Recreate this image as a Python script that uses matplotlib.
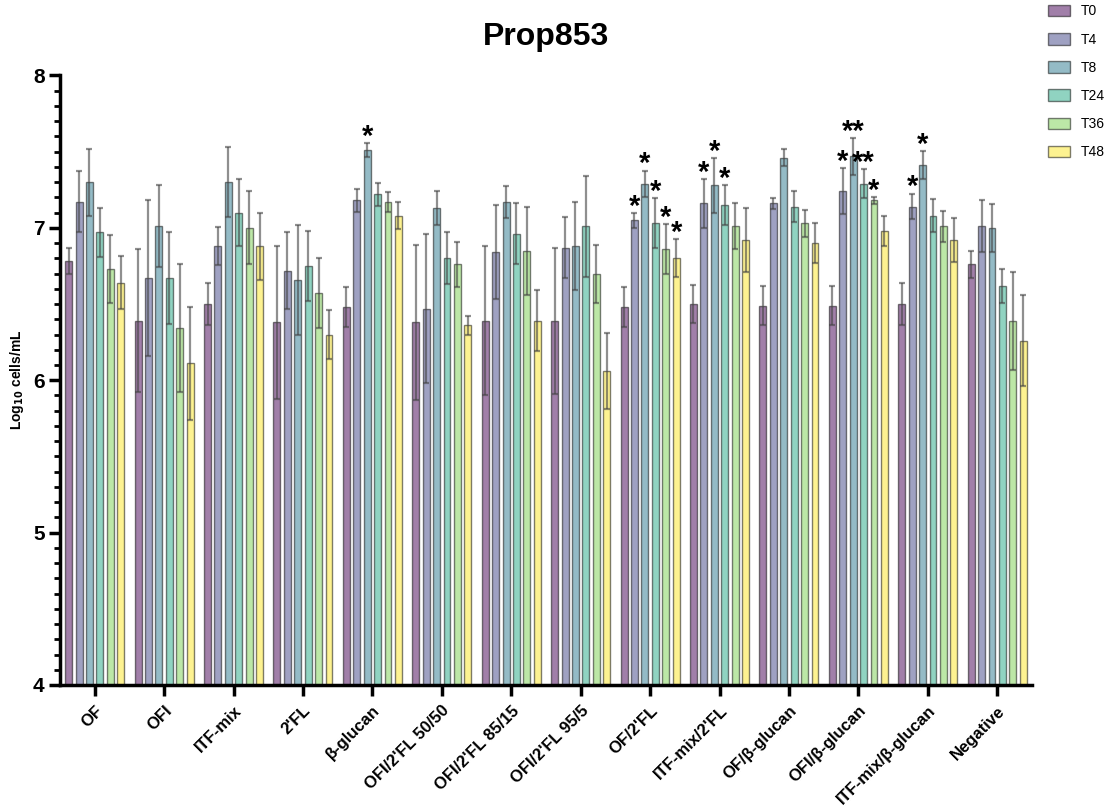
import matplotlib
matplotlib.use('Agg')
import matplotlib.pyplot as plt
import numpy as np

plt.rcParams['font.family'] = ['Liberation Sans', 'DejaVu Sans']

# Data (log10 cells/mL)
groups = ['OF', 'OFI', 'ITF-mix', "2'FL", 'β-glucan', "OFI/2'FL 50/50", "OFI/2'FL 85/15",
          "OFI/2'FL 95/5", "OF/2'FL", "ITF-mix/2'FL", 'OF/β-glucan', 'OFI/β-glucan',
          'ITF-mix/β-glucan', 'Negative']
times = ['T0', 'T4', 'T8', 'T24', 'T36', 'T48']

t0 = [6.78, 6.39, 6.50, 6.38, 6.48, 6.38, 6.39, 6.39, 6.48, 6.50, 6.49, 6.49, 6.50, 6.76]
t4 = [7.17, 6.67, 6.88, 6.72, 7.18, 6.47, 6.84, 6.87, 7.05, 7.16, 7.16, 7.24, 7.14, 7.01]
t8 = [7.30, 7.01, 7.30, 6.66, 7.51, 7.13, 7.17, 6.88, 7.29, 7.28, 7.46, 7.47, 7.41, 7.00]
t24 = [6.97, 6.67, 7.10, 6.75, 7.22, 6.80, 6.96, 7.01, 7.03, 7.15, 7.14, 7.29, 7.08, 6.62]
t36 = [6.73, 6.34, 7.00, 6.57, 7.17, 6.76, 6.85, 6.70, 6.86, 7.01, 7.03, 7.18, 7.01, 6.39]
t48 = [6.64, 6.11, 6.88, 6.30, 7.08, 6.36, 6.39, 6.06, 6.80, 6.92, 6.90, 6.98, 6.92, 6.26]

e0 = [0.085, 0.47, 0.14, 0.50, 0.13, 0.51, 0.49, 0.48, 0.13, 0.125, 0.13, 0.13, 0.14, 0.09]
e4 = [0.20, 0.51, 0.125, 0.25, 0.076, 0.49, 0.31, 0.20, 0.05, 0.16, 0.037, 0.15, 0.085, 0.17]
e8 = [0.22, 0.27, 0.23, 0.36, 0.046, 0.11, 0.107, 0.29, 0.086, 0.18, 0.056, 0.12, 0.092, 0.156]
e24 = [0.16, 0.30, 0.22, 0.23, 0.077, 0.17, 0.20, 0.33, 0.165, 0.13, 0.10, 0.094, 0.11, 0.11]
e36 = [0.22, 0.42, 0.24, 0.23, 0.066, 0.15, 0.29, 0.19, 0.165, 0.15, 0.09, 0.025, 0.10, 0.32]
e48 = [0.175, 0.37, 0.22, 0.16, 0.087, 0.063, 0.20, 0.25, 0.125, 0.21, 0.13, 0.10, 0.145, 0.30]

# significance marks: (group index, time index, text)
stars = [(4, 2, '*'),
         (8, 1, '*'), (8, 2, '*'), (8, 3, '*'), (8, 4, '*'), (8, 5, '*'),
         (9, 1, '*'), (9, 2, '*'), (9, 3, '*'),
         (11, 1, '*'), (11, 2, '**'), (11, 3, '**'), (11, 4, '*'),
         (12, 1, '*'), (12, 2, '*')]

means = [t0, t4, t8, t24, t36, t48]
errs = [e0, e4, e8, e24, e36, e48]

fig = plt.figure(figsize=(11.19, 8.09), dpi=100)
ax = fig.add_axes([0.0536, 0.1533, 0.8686, 0.7534])

colors = plt.cm.viridis(np.linspace(0, 1, 6))
x = np.arange(len(groups))
step = 0.15
width = 0.1

for j, (m, e) in enumerate(zip(means, errs)):
    pos = x + (j - 2.5) * step
    ax.bar(pos, m, width, color=colors[j], alpha=0.5, edgecolor='black', linewidth=1.0,
           label=times[j], zorder=2)
    ax.errorbar(pos, m, yerr=e, fmt='none', ecolor='#444444', alpha=0.6, elinewidth=1.6,
                capsize=2, capthick=1.6, zorder=3)

for g, t, s in stars:
    xp = g + (t - 2.5) * step
    yp = means[t][g] + errs[t][g] - 0.012
    ax.text(xp, yp, s, ha='center', va='baseline', fontsize=21, fontweight='bold', zorder=4)

ax.set_xlim(-0.5, 13.5)
ax.set_ylim(4, 8)
ax.set_yticks([4, 5, 6, 7, 8])
ax.set_yticks(np.arange(4, 8.01, 0.1), minor=True)
ax.set_xticks(x)
ax.set_xticklabels(groups, rotation=45, ha='right', rotation_mode='anchor',
                   fontsize=12, fontweight='bold')
for lab in ax.get_yticklabels():
    lab.set_fontsize(15)
    lab.set_fontweight('bold')

ax.spines['top'].set_visible(False)
ax.spines['right'].set_visible(False)
ax.spines['left'].set_linewidth(2.5)
ax.spines['bottom'].set_linewidth(2.5)
ax.tick_params(axis='both', which='major', length=8, width=2.5, pad=3)
ax.tick_params(axis='x', which='major', pad=5)
ax.tick_params(axis='y', which='minor', length=4, width=2)
ax.tick_params(axis='x', which='minor', bottom=False)

ax.set_ylabel('Log$_{\\mathbf{10}}$ cells/mL', fontsize=10, fontweight='bold', labelpad=5)
ax.set_title('Prop853', fontsize=23, fontweight='bold', pad=22)

fig.legend(loc='upper left', bbox_to_anchor=(0.925, 1.01), frameon=False, fontsize=10,
           handlelength=1.6, handleheight=0.9, labelspacing=1.02)

plt.savefig('out.png', dpi=100)
